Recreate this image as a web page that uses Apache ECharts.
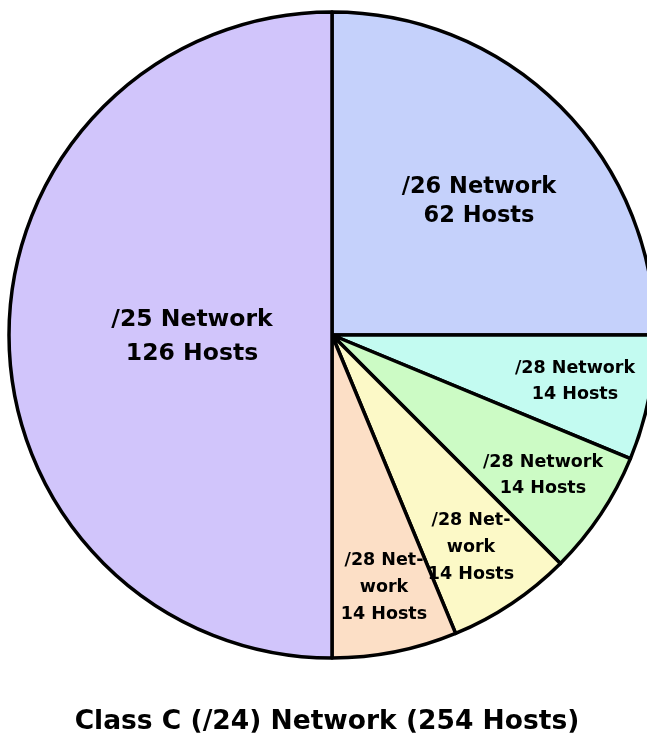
<!DOCTYPE html>
<html>
<head>
<meta charset="utf-8">
<title>Class C (/24) Network (254 Hosts)</title>
<script src="https://cdn.jsdelivr.net/npm/echarts@6/dist/echarts.min.js"></script>
<style>
  html, body { margin: 0; padding: 0; background: #ffffff; }
  #chart { width: 647px; height: 734px; }
</style>
</head>
<body>
<div id="chart"></div>
<script>
// Subnets carved out of one class C block, listed clockwise from 12 o'clock.
const prefixes = ['/26', '/28', '/28', '/28', '/28', '/25'];
const networkWords = ['Network', 'Network', 'Network', 'Net-\nwork', 'Net-\nwork', 'Network'];
// Addresses in each subnet (slice size); usable hosts = addresses - network - broadcast.
const addressCounts = [64, 16, 16, 16, 16, 128];
const chartTitle = 'Class C (/24) Network (254 Hosts)';

const sliceColors = ['#C5D1FB', '#C3FBF1', '#CCFBC5', '#FCF9C7', '#FCDFC6', '#D1C5FB'];
const labelCenters = [[479, 202], [575, 381], [543, 475], [471, 547], [384, 587], [192, 337]];
const labelFonts = [[22.5, 29], [17.5, 26], [17.5, 26], [17.5, 27], [17.5, 27], [23.5, 34]];

const FONT = '"DejaVu Sans", Verdana, sans-serif';

const data = addressCounts.map((v, i) => ({
  name: prefixes[i] + ' ' + networkWords[i],
  value: v,
  itemStyle: { color: sliceColors[i] },
  label: { fontSize: labelFonts[i][0], lineHeight: labelFonts[i][1] }
}));

const chart = echarts.init(document.getElementById('chart'), null, { renderer: 'canvas' });
chart.setOption({
  animation: false,
  backgroundColor: '#ffffff',
  title: {
    text: chartTitle,
    left: 322,
    top: 704,
    textAlign: 'center',
    textStyle: { fontFamily: FONT, fontWeight: 'bold', fontSize: 26.5, color: '#000000' }
  },
  series: [{
    type: 'pie',
    center: [332, 335],
    radius: [0, 323],
    startAngle: 90,
    clockwise: true,
    avoidLabelOverlap: false,
    silent: true,
    itemStyle: { borderColor: '#000000', borderWidth: 3.5 },
    label: {
      show: true,
      position: 'inside',
      fontFamily: FONT,
      fontWeight: 'bold',
      color: '#000000',
      align: 'center',
      verticalAlign: 'middle',
      formatter: p => p.name + '\n' + (p.value - 2) + ' Hosts'
    },
    labelLine: { show: false },
    labelLayout: p => ({
      x: labelCenters[p.dataIndex][0],
      y: labelCenters[p.dataIndex][1],
      align: 'center',
      verticalAlign: 'middle'
    }),
    data: data
  }]
});
</script>
</body>
</html>
